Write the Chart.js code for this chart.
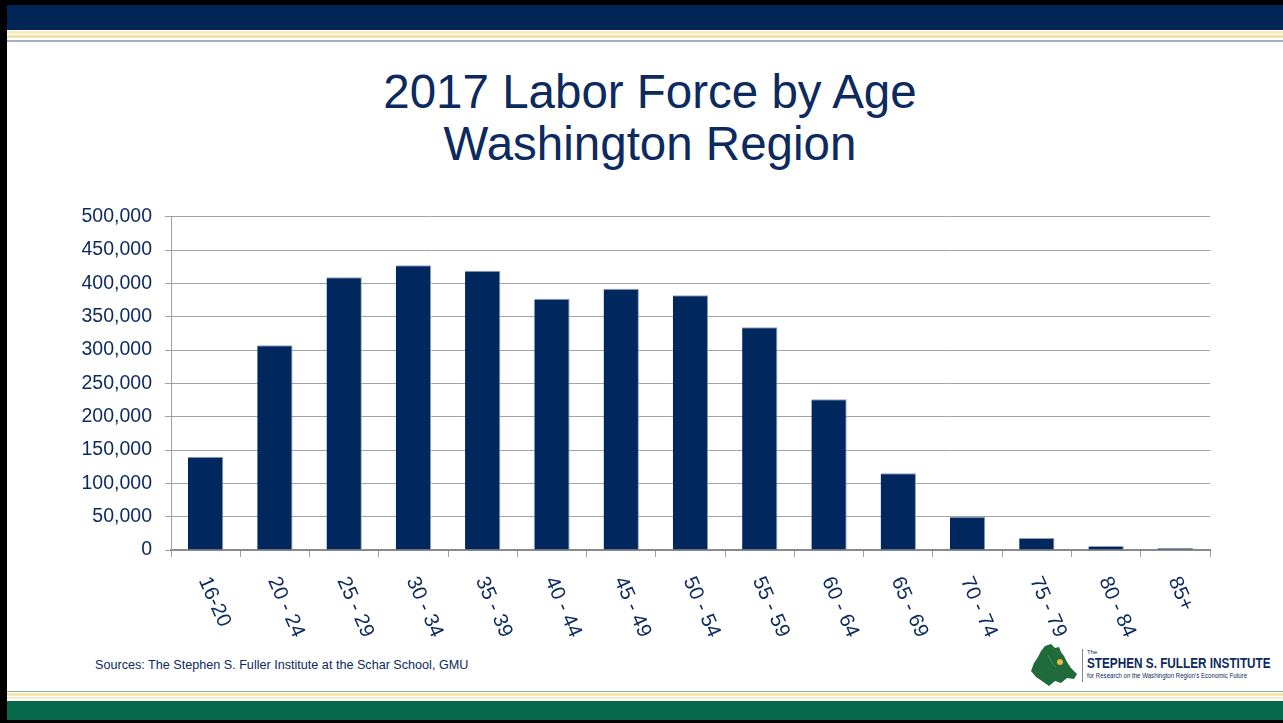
<!DOCTYPE html>
<html>
<head>
<meta charset="utf-8">
<script src="https://cdn.jsdelivr.net/npm/chart.js@4"></script>
<style>
  html, body { margin: 0; padding: 0; background: #fff; }
  body { width: 1283px; height: 723px; position: relative; overflow: hidden; font-family: "Liberation Sans", Arial, sans-serif; }
  .frame-left { position: absolute; left: 0; top: 0; width: 7px; height: 723px; background: #000; }
  .top-black { position: absolute; left: 0; top: 0; width: 1283px; height: 5px; background: #000; }
  .top-navy { position: absolute; left: 7px; top: 5px; width: 1276px; height: 25px; background: #002658; }
  .top-cream1 { position: absolute; left: 7px; top: 31px; width: 1276px; height: 3px; background: #f5edc0; }
  .top-cream2 { position: absolute; left: 7px; top: 35px; width: 1276px; height: 3px; background: #f1e3a8; }
  .top-gray { position: absolute; left: 7px; top: 40px; width: 1276px; height: 2px; background: #9fb0bf; }
  .bot-gray { position: absolute; left: 7px; top: 691px; width: 1276px; height: 1px; background: #8fb0a0; }
  .bot-cream1 { position: absolute; left: 7px; top: 693px; width: 1276px; height: 3px; background: #f3e6b0; }
  .bot-cream2 { position: absolute; left: 7px; top: 697px; width: 1276px; height: 2px; background: #f6eec8; }
  .bot-green { position: absolute; left: 7px; top: 701px; width: 1276px; height: 19px; background: #05694a; }
  .bot-black { position: absolute; left: 0; top: 720px; width: 1283px; height: 3px; background: #000; }
  .title { position: absolute; left: 0; width: 1300px; top: 66px; text-align: center; color: #0c2a5e; font-size: 47.5px; line-height: 52px; }
  .source { position: absolute; left: 95px; top: 657px; color: #0c2a5e; font-size: 13px; transform: scaleX(0.97); transform-origin: left; white-space: nowrap; }
  #wrap { position: absolute; left: 0; top: 192px; width: 1283px; height: 448px; }
  .logo { position: absolute; left: 1030px; top: 643px; width: 240px; height: 45px; }
  .logo .bar { position: absolute; left: 52px; top: 6px; width: 1px; height: 33px; background: #7a8a9a; }
  .logo .the { position: absolute; left: 57px; top: 6px; font-size: 6px; color: #0c2a5e; }
  .logo .name { position: absolute; left: 57px; top: 12px; font-size: 14px; font-weight: bold; color: #0c2a5e; transform: scaleX(0.84); transform-origin: left; white-space: nowrap; }
  .logo .sub { position: absolute; left: 57px; top: 29px; font-size: 7px; color: #0c2a5e; white-space: nowrap; transform: scaleX(0.87); transform-origin: left; }
</style>
</head>
<body>
<div class="top-black"></div>
<div class="top-navy"></div>
<div class="top-cream1"></div>
<div class="top-cream2"></div>
<div class="top-gray"></div>
<div class="bot-gray"></div>
<div class="bot-cream1"></div>
<div class="bot-cream2"></div>
<div class="bot-green"></div>
<div class="bot-black"></div>
<div class="frame-left"></div>

<div class="title">2017 Labor Force by Age<br>Washington Region</div>
<div id="wrap"><canvas id="laborChart"></canvas></div>
<div class="source">Sources: The Stephen S. Fuller Institute at the Schar School, GMU</div>

<div class="logo">
  <svg width="52" height="45" style="position:absolute;left:0;top:0">
    <path d="M15 3 L21 1 L25 5 L29 4 L31 9 L34 13 L37 19 L41 25 L47 31 L44 36 L37 35 L31 40 L25 38 L19 43 L12 38 L6 34 L1 28 L4 20 L8 14 L11 8 Z" fill="#1f6b3a"/>
    <path d="M18 12 L22 20 L26 24" stroke="#4f8f5a" stroke-width="1" fill="none"/>
    <circle cx="30" cy="19" r="3" fill="#e8b93a"/>
  </svg>
  <div class="bar"></div>
  <div class="the">The</div>
  <div class="name">STEPHEN S. FULLER INSTITUTE</div>
  <div class="sub">for Research on the Washington Region's Economic Future</div>
</div>

<script>
const ageGroups = ["16-20", "20 - 24", "25 - 29", "30 - 34", "35 - 39", "40 - 44", "45 - 49",
  "50 - 54", "55 - 59", "60 - 64", "65 - 69", "70 - 74", "75 - 79", "80 - 84", "85+"];
const laborForce = [140000, 307000, 409000, 427000, 419000, 377000, 392000,
  382000, 334000, 226000, 115000, 50000, 18000, 6000, 3000];
const yTicks = [0, 50000, 100000, 150000, 200000, 250000, 300000, 350000, 400000, 450000, 500000];

const navy = "#0c2a5e";
const fontFamily = "'Liberation Sans', Arial, sans-serif";

// x labels are turned clockwise, which chart.js ticks can't do, so draw them here
const slantedLabels = {
  id: "slantedLabels",
  afterDraw(chart) {
    const { ctx, scales: { x } } = chart;
    ctx.save();
    ctx.fillStyle = navy;
    ctx.font = "20.5px " + fontFamily;
    ctx.textAlign = "left";
    ctx.textBaseline = "middle";
    ageGroups.forEach((lab, i) => {
      const px = x.getPixelForTick(i);
      ctx.save();
      ctx.translate(px - 2, x.top + 28);
      ctx.rotate(66 * Math.PI / 180);
      ctx.fillText(lab, 0, 0);
      ctx.restore();
    });
    ctx.restore();
  }
};

new Chart(document.getElementById("laborChart"), {
  type: "bar",
  data: {
    labels: ageGroups,
    datasets: [{
      data: laborForce,
      backgroundColor: "#00285e",
      borderColor: "#8e9fb8",
      borderWidth: { top: 1, left: 0, right: 1, bottom: 0 },
      categoryPercentage: 1,
      barPercentage: 0.51
    }]
  },
  options: {
    responsive: true,
    maintainAspectRatio: false,
    animation: false,
    layout: { padding: { left: 0, top: 8, right: 73, bottom: 0 } },
    plugins: {
      legend: { display: false },
      tooltip: { enabled: false }
    },
    scales: {
      x: {
        offset: true,
        grid: {
          offset: true,
          drawOnChartArea: false,
          drawTicks: true,
          tickLength: 7,
          color: "#a0a0a0"
        },
        border: { color: "#8a8a8a", width: 2 },
        ticks: { display: false },
        afterFit(scale) { scale.height = 90; }
      },
      y: {
        min: 0,
        max: 500000,
        afterBuildTicks(scale) { scale.ticks = yTicks.map(v => ({ value: v })); },
        grid: { color: "#a3a3a3", lineWidth: 1, tickLength: 6 },
        border: { color: "#a0a0a0", width: 1 },
        ticks: {
          color: navy,
          font: { family: fontFamily, size: 19.5 },
          padding: 13,
          callback: v => v.toLocaleString("en-US")
        },
        afterFit(scale) { scale.width = 171; }
      }
    }
  },
  plugins: [slantedLabels]
});
</script>
</body>
</html>
